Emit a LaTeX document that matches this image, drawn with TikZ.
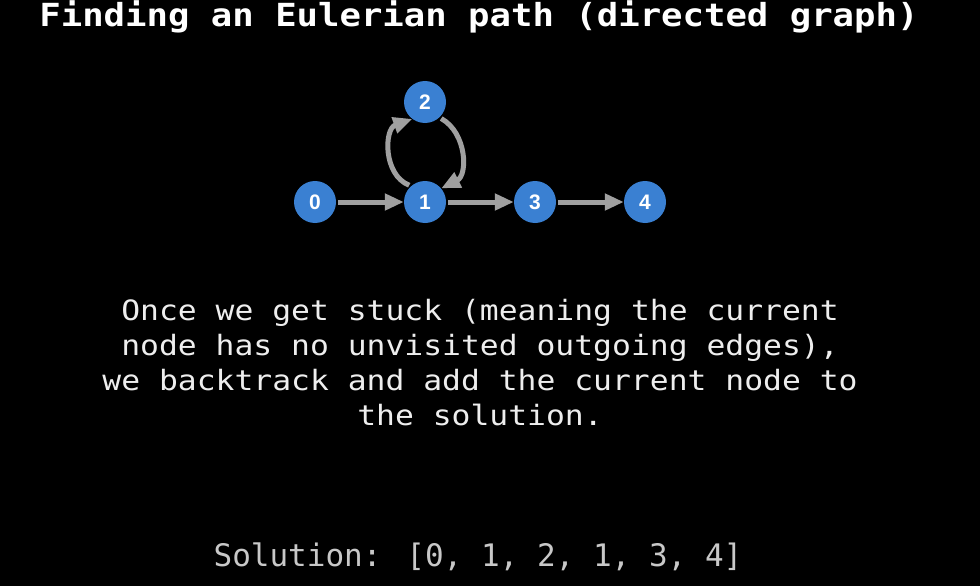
\documentclass[tikz,border=0pt]{standalone}
\usepackage{fontspec}
\setmonofont[FakeStretch=1.12]{DejaVu Sans Mono}
\newfontfamily\solfont{DejaVu Sans Mono}
\newfontfamily\nodefont{Liberation Sans}
\usetikzlibrary{arrows.meta}
\definecolor{nodeblue}{RGB}{58,128,210}
\definecolor{edgegray}{RGB}{160,160,160}
\definecolor{soltext}{RGB}{200,200,200}
\definecolor{bodytext}{RGB}{238,238,238}
\begin{document}
\begin{tikzpicture}[x=1pt,y=-1pt,
  vertex/.style={circle,fill=nodeblue,minimum size=42pt,inner sep=0pt,text=white,font=\nodefont\bfseries\fontsize{21}{21}\selectfont},
  edge/.style={draw=edgegray,line width=5pt,-{Triangle[length=19pt,width=16pt]},shorten <=2pt},
  bodyline/.style={text=bodytext,font=\ttfamily\fontsize{28}{35}\selectfont,anchor=base}]
\fill[black] (0,0) rectangle (980,586);
\useasboundingbox (0,0) rectangle (980,586);
\node[anchor=base,text=white,font=\ttfamily\bfseries\fontsize{31.8}{36}\selectfont] (title) at (479,27) {Finding an Eulerian path (directed graph)};
\node[vertex] (n0) at (315,202) {0};
\node[vertex] (n1) at (425,202) {1};
\node[vertex] (n2) at (425,102) {2};
\node[vertex] (n3) at (535,202) {3};
\node[vertex] (n4) at (645,202) {4};
\draw[edge] (n0) -- (n1);
\draw[edge] (n1) -- (n3);
\draw[edge] (n3) -- (n4);
\draw[edge] (n1.131) .. controls (383,175) and (384,129) .. (n2.233);
\draw[edge] (n2.-47) .. controls (467,133) and (468,175) .. (n1.40);
\node[bodyline] (l1) at (480,320) {Once we get stuck (meaning the current};
\node[bodyline] (l2) at (480,355) {node has no unvisited outgoing edges),};
\node[bodyline] (l3) at (480,390) {we backtrack and add the current node to};
\node[bodyline] (l4) at (480,425) {the solution.};
\node[anchor=base,text=soltext,font=\solfont\fontsize{31}{36}\selectfont] (sol) at (478,566) {Solution: [0, 1, 2, 1, 3, 4]};
\end{tikzpicture}
\end{document}
